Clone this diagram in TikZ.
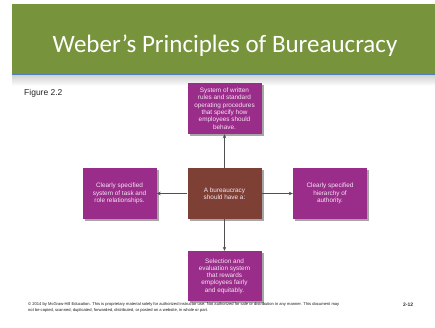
\documentclass[tikz,border=0pt]{standalone}
\usepackage{fontspec}
\setmainfont{Liberation Sans}
\newfontfamily\titlefont{Carlito}
\usetikzlibrary{shadows,arrows.meta}
\definecolor{hdrgreen}{HTML}{77933C}
\definecolor{hdrblue}{HTML}{4F81BD}
\definecolor{boxpurple}{HTML}{9A2C8A}
\definecolor{boxbrown}{HTML}{7E4035}
\definecolor{boxtext}{HTML}{F6E6F2}
\definecolor{linkgray}{HTML}{505050}
\tikzset{
  pbox/.style={fill=boxpurple, text=boxtext, minimum width=74pt, minimum height=51pt,
    align=center, inner sep=0pt,
    font=\fontsize{6.4}{7.3}\selectfont,
    drop shadow={shadow xshift=2pt, shadow yshift=-2pt, opacity=0.35, fill=black}},
  cbox/.style={pbox, fill=boxbrown},
  link/.style={draw=linkgray, line width=0.6pt, -{Stealth[length=4pt,width=3.5pt]}}
}
\begin{document}
\begin{tikzpicture}[x=1pt,y=1pt]
\useasboundingbox (0,0) rectangle (435,-327);
\fill[white] (0,0) rectangle (435,-327);
% header
\shade[top color=black!18, bottom color=white] (12,-75) rectangle (435,-86);
\fill[hdrgreen] (12,-4) rectangle (435,-74);
\fill[hdrblue] (12,-74) rectangle (435,-75.2);
\node[text=white, font=\titlefont\fontsize{25}{28}\selectfont, inner sep=0pt] (title) at (225,-46) {Weber’s Principles of Bureaucracy};
\node[anchor=west, font=\fontsize{8.5}{10}\selectfont, inner sep=0pt, text=black!85] (fig) at (24,-93) {Figure 2.2};
% boxes
\node[cbox] (c) at (224.5,-193.5) {A bureaucracy\\should have a:};
\node[pbox] (t) at (224.5,-108.5) {System of written\\rules and standard\\operating procedures\\that specify how\\employees should\\behave.};
\node[pbox] (l) at (119.5,-193.5) {Clearly specified\\system of task and\\role relationships.};
\node[pbox] (r) at (330,-193.5) {Clearly specified\\hierarchy of\\authority.};
\node[pbox, minimum height=50pt] (b) at (224.5,-276) {Selection and\\evaluation system\\that rewards\\employees fairly\\and equitably.};
% links
\draw[link] (c.north) -- (t.south);
\draw[link] (c.south) -- (b.north);
\draw[link] (c.west) -- (l.east);
\draw[link] (c.east) -- (r.west);
% footer
\node[anchor=north west, align=left, inner sep=0pt, font=\fontsize{4.1}{6}\selectfont, text=black!90] (foot) at (28,-302.5) {© 2014 by McGraw-Hill Education. This is proprietary material solely for authorized instructor use. Not authorized for sale or distribution in any manner. This document may\\not be copied, scanned, duplicated, forwarded, distributed, or posted on a website, in whole or part.};
\node[anchor=west, inner sep=0pt, font=\bfseries\fontsize{5}{6}\selectfont, text=black!80] (pg) at (403,-304.5) {2-12};
\end{tikzpicture}
\end{document}
